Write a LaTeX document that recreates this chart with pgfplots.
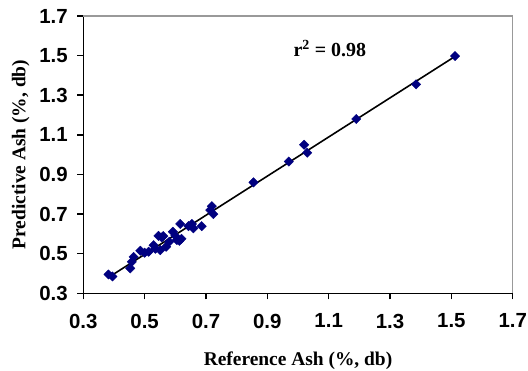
\documentclass[border=0pt]{standalone}
\usepackage{fontspec}
\setmainfont{Liberation Serif}
\newfontfamily\arialfont{Liberation Sans}
\usepackage{pgfplots}
\pgfplotsset{compat=1.18}
\definecolor{navy}{RGB}{0,0,128}
\begin{document}
\begin{tikzpicture}
\useasboundingbox (-83.3bp,-77.7bp) rectangle (444.7bp,293.3bp);
\begin{axis}[
  at={(0,0)}, anchor=south west,
  scale only axis,
  width=429.4bp, height=277.3bp,
  xmin=0.3, xmax=1.7, ymin=0.3, ymax=1.7,
  xtick={0.3,0.5,...,1.7}, ytick={0.3,0.5,...,1.7},
  /pgf/number format/fixed,
  /pgf/number format/fixed zerofill,
  /pgf/number format/precision=1,
  /pgf/number format/assume math mode=true,
  axis x line*=bottom, axis y line*=left,
  axis line style={black, line width=1.5pt, -},
  tick style={black, line width=1.5pt},
  tick align=outside,
  major tick length=6bp,
  tick label style={font=\arialfont\bfseries\fontsize{20.5}{23}\selectfont},
  yticklabel style={xshift=-6bp},
  xticklabel style={yshift=-11bp},
  label style={font=\bfseries\fontsize{19.5}{22}\selectfont},
  xlabel={Reference Ash (\%, db)},
  ylabel={Predictive Ash (\%, db)},
  xlabel style={at={(axis description cs:0.5,-0.2614)}, anchor=base},
  ylabel style={at={(axis description cs:-0.135,0.5)}, anchor=base},
  clip=false,
]
\draw[gray!80, line width=1.5pt] (rel axis cs:0,1) -- (rel axis cs:1,1) -- (rel axis cs:1,0);
\addplot[black, line width=1.6pt, no marks] coordinates {(0.385,0.383) (1.51,1.494)};
\addplot[only marks, mark=square*, mark size=3.3bp, mark options={navy, fill=navy, rotate=45}] coordinates {
(1.512,1.498) (1.385,1.355) (1.19,1.18) (1.03,1.01) (1.02,1.05) (0.97,0.965)
(0.855,0.86) (0.719,0.740) (0.724,0.700) (0.714,0.720) (0.686,0.639) (0.659,0.628)
(0.654,0.650) (0.643,0.639) (0.616,0.650) (0.613,0.565) (0.605,0.569) (0.592,0.611)
(0.600,0.590) (0.570,0.535) (0.561,0.589) (0.556,0.582) (0.551,0.518) (0.545,0.590)
(0.529,0.543) (0.535,0.525) (0.513,0.510) (0.500,0.505) (0.486,0.515) (0.464,0.484)
(0.458,0.459) (0.453,0.426) (0.382,0.395) (0.395,0.385) (0.58,0.56) (0.62,0.575)
};
\node[font=\bfseries\fontsize{20}{22}\selectfont, anchor=base west, inner sep=0pt] at (axis cs:0.985,1.494) {r\textsuperscript{2} = 0.98};
\end{axis}
\end{tikzpicture}
\end{document}
